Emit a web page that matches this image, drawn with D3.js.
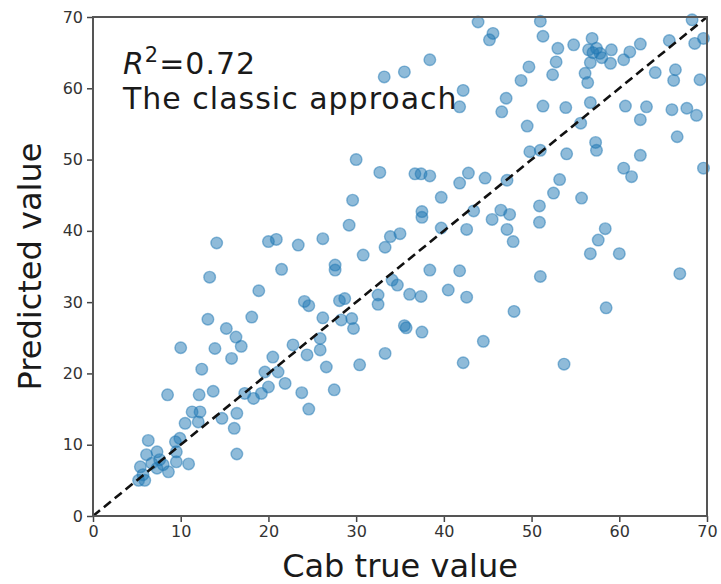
<!DOCTYPE html>
<html>
<head>
<meta charset="utf-8">
<script src="https://cdn.jsdelivr.net/npm/d3@7"></script>
<style>
  body { margin: 0; background: #fff; }
  svg { display: block; font-family: "DejaVu Sans", sans-serif; }
</style>
</head>
<body>
<svg id="chart" width="721" height="584"></svg>
<script>
// scatter of predicted vs true Cab, with 1:1 line

var cabTrue = [5.2,5.9,5.7,5.4,6.7,7.3,6.1,6.3,7.3,7.6,8.0,8.6,9.5,10.9,9.4,9.9,9.5,10.5,12.0,11.3,
  12.2,8.5,12.1,10.0,13.7,14.7,16.4,16.1,16.4,12.4,13.9,15.8,15.2,16.3,16.9,13.1,13.3,14.1,17.3,18.3,
  19.2,20.0,21.9,19.6,21.1,20.5,18.1,18.9,20.0,20.9,21.5,22.8,23.4,23.8,24.6,24.4,25.9,25.9,24.1,24.6,
  26.2,26.6,27.5,26.2,27.6,27.6,28.1,28.7,28.3,29.5,29.7,29.2,29.6,30.0,30.8,30.4,32.5,32.5,33.3,34.1,
  34.7,36.1,37.4,35.5,35.7,37.5,33.3,33.9,35.0,32.7,33.2,35.5,38.4,36.7,37.4,38.4,37.5,37.5,39.7,39.7,
  38.4,40.5,41.8,42.6,42.2,44.5,41.8,42.8,44.7,42.6,43.4,45.5,46.5,47.5,47.2,47.9,48.0,47.2,42.2,41.8,
  43.9,45.6,45.2,47.1,46.6,48.8,49.7,49.5,49.8,51.0,51.3,51.0,51.3,50.9,50.9,51.0,52.5,53.2,54.0,53.0,
  54.8,52.8,52.4,53.9,55.6,56.7,56.9,56.5,57.4,57.8,57.0,58.0,56.7,56.1,56.4,59.1,59.0,60.5,61.2,62.4,
  57.3,57.4,55.7,53.7,58.5,58.4,57.6,56.7,60.0,60.7,60.5,61.4,62.4,63.1,62.4,64.1,65.7,66.4,66.2,66.0,
  67.7,68.8,66.6,68.3,68.6,69.6,69.2,69.6,66.9];

var predicted = [5.0,5.0,5.8,6.9,7.4,6.7,8.6,10.6,9.0,7.9,7.2,6.2,7.6,7.3,10.4,10.9,9.0,13.0,13.2,14.6,
  14.6,17.0,17.0,23.6,17.5,13.7,14.4,12.3,8.7,20.6,23.5,22.1,26.3,25.1,23.8,27.6,33.5,38.3,17.2,16.5,
  17.2,18.1,18.6,20.2,20.2,22.3,27.9,31.6,38.5,38.8,34.6,24.0,38.0,17.3,15.0,22.6,23.3,24.9,30.1,29.5,
  27.8,20.9,17.7,38.9,35.2,34.5,30.2,30.5,27.5,27.7,26.3,40.8,44.3,50.0,36.6,21.2,31.0,29.7,22.8,33.1,
  32.4,31.1,30.8,26.7,26.4,25.8,37.7,39.2,39.6,48.2,61.6,62.3,64.0,48.0,48.0,47.7,42.7,41.9,44.7,40.4,
  34.5,31.7,34.4,30.7,21.5,24.5,46.7,48.1,47.4,40.2,42.8,41.6,42.9,42.3,40.2,38.5,28.7,47.1,59.7,57.4,
  69.3,67.7,66.8,58.6,56.7,61.1,63.0,54.7,51.1,51.3,57.5,69.4,67.3,43.5,41.2,33.6,45.3,47.2,50.8,65.6,
  66.1,63.7,61.9,57.3,55.1,58.0,67.0,65.4,65.6,64.9,65.0,64.3,63.6,62.1,60.8,65.4,63.5,64.0,65.1,66.2,
  52.4,51.3,44.6,21.3,29.2,40.3,38.7,36.8,36.8,57.5,48.8,47.6,50.6,57.4,55.6,62.2,66.7,62.6,61.1,57.0,
  57.2,56.2,53.2,69.6,66.3,67.0,61.2,48.8,34.0];

var tickValues = [0, 10, 20, 30, 40, 50, 60, 70];
var lineEnds = [0, 70];
var annotation = ["0.72", "The classic approach"];

var svg = d3.select("#chart"),
    margin = {top: 17, right: 14, bottom: 68, left: 93},
    width = 721 - margin.left - margin.right,
    height = 584 - margin.top - margin.bottom,
    g = svg.append("g").attr("transform", "translate(" + margin.left + "," + margin.top + ")");

var x = d3.scaleLinear().domain([0, 70]).range([0, width]);
var y = d3.scaleLinear().domain([0, 70]).range([height, 0]);

var data = cabTrue.map(function(v, i) { return [v, predicted[i]]; });

// points
g.append("g")
    .selectAll("circle")
    .data(data)
    .enter().append("circle")
    .attr("cx", function(d) { return x(d[0]); })
    .attr("cy", function(d) { return y(d[1]); })
    .attr("r", 5.8)
    .attr("fill", "#1f77b4")
    .attr("fill-opacity", 0.5)
    .attr("stroke", "#1f77b4")
    .attr("stroke-opacity", 0.5)
    .attr("stroke-width", 1.4);

// 1:1 line
g.append("line")
    .attr("x1", x(lineEnds[0])).attr("y1", y(lineEnds[0]))
    .attr("x2", x(lineEnds[1])).attr("y2", y(lineEnds[1]))
    .attr("stroke", "#111")
    .attr("stroke-width", 2.6)
    .attr("stroke-dasharray", "9,5");

// axes
var xAxis = g.append("g")
    .attr("transform", "translate(0," + height + ")")
    .call(d3.axisBottom(x).tickValues(tickValues).tickSize(6).tickPadding(4));
var yAxis = g.append("g")
    .call(d3.axisLeft(y).tickValues(tickValues).tickSize(6).tickPadding(4));

[xAxis, yAxis].forEach(function(a) {
    a.select(".domain").remove();
    a.selectAll(".tick line").attr("stroke", "#444").attr("stroke-width", 1.5);
    a.selectAll(".tick text")
        .attr("fill", "#333")
        .style("font-family", "DejaVu Sans")
        .style("font-size", "16px");
});

// frame
g.append("rect")
    .attr("x", 0).attr("y", 0)
    .attr("width", width).attr("height", height)
    .attr("fill", "none")
    .attr("stroke", "#555")
    .attr("stroke-width", 2);

// labels
svg.append("text")
    .attr("x", margin.left + width / 2)
    .attr("y", 577)
    .attr("text-anchor", "middle")
    .attr("fill", "#1a1a1a")
    .style("font-size", "32px")
    .text("Cab true value");

svg.append("text")
    .attr("transform", "translate(41," + (margin.top + height / 2) + ") rotate(-90)")
    .attr("text-anchor", "middle")
    .attr("fill", "#1a1a1a")
    .style("font-size", "32px")
    .text("Predicted value");

var ann = svg.append("text")
    .attr("x", 123)
    .attr("y", 74)
    .attr("fill", "#1a1a1a")
    .style("font-size", "30px")
    .style("letter-spacing", "1px");
ann.append("tspan").style("font-style", "italic").text("R");
ann.append("tspan").attr("dy", -12).style("font-size", "21px").text("2");
ann.append("tspan").attr("dy", 12).text("=" + annotation[0]);

svg.append("text")
    .attr("x", 123)
    .attr("y", 109)
    .attr("fill", "#1a1a1a")
    .style("font-size", "30px")
    .style("letter-spacing", "1px")
    .text(annotation[1]);
</script>
</body>
</html>
